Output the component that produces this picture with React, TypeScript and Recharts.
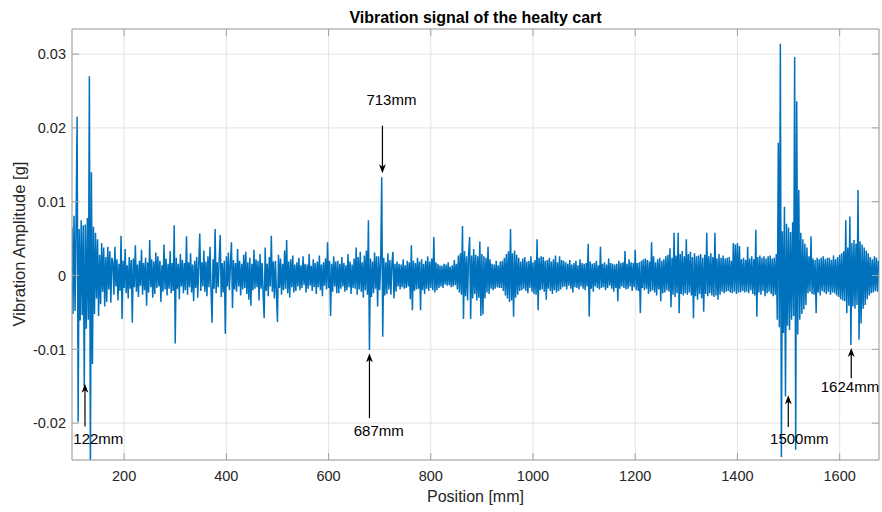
import React from 'react';
import { LineChart, Line, XAxis, YAxis, CartesianGrid, ReferenceLine, ReferenceDot } from 'recharts';

const TITLE = 'Vibration signal of the healty cart';
const X_LABEL = 'Position [mm]';
const Y_LABEL = 'Vibration Amplitude [g]';

const POSITION_START_MM = 98;
const POSITION_STEP_MM = 2;
const X_DOMAIN = [98, 1677];
const Y_DOMAIN = [-0.025, 0.0334];
const X_TICKS = [200, 400, 600, 800, 1000, 1200, 1400, 1600];
const Y_TICKS = [-0.02, -0.01, 0, 0.01, 0.02, 0.03];

// vibration amplitude in milli-g, one sample every 2 mm from 98 mm
const AMPLITUDE_MG = [
  6.5,-5.2,8.1,-4.8,7.2,21.5,-19.8,6.3,-6.1,7.5,-5.4,6.8,-15.0,6.9,-7.2,7.8,-6.0,27.0,-27.0,14.0,
  -12.0,6.6,-5.2,5.8,-3.1,4.9,-5.5,2.8,-3.9,4.4,-2.2,3.8,-4.2,2.5,-3.6,3.9,-1.9,3.3,-3.7,2.4,
  1.8,-2.6,3.9,-1.5,2.2,-3.4,1.6,-2.1,5.4,-5.9,2.0,-1.7,3.6,-2.4,1.4,-3.1,2.5,-1.8,2.1,-6.4,
  2.3,-1.6,4.1,-2.2,1.5,-2.9,2.0,-1.4,3.5,-2.6,1.7,-2.0,2.4,-4.1,1.8,-2.3,4.8,-1.6,2.2,-3.0,
  1.9,-2.5,3.1,-1.7,2.6,-1.5,2.0,-3.6,1.4,-2.2,4.2,-1.9,2.3,-2.7,1.6,-1.8,3.3,-2.4,1.7,-2.1,
  6.8,-9.2,2.4,-1.8,1.6,-3.2,2.9,-1.5,2.1,-2.4,1.7,-2.0,5.3,-2.6,1.8,-1.6,3.0,-2.3,1.5,-3.5,
  2.0,-1.7,2.5,-3.0,1.6,5.7,-2.1,1.8,-1.5,3.4,-2.2,1.9,-2.8,2.6,-1.6,3.9,-2.0,-6.4,2.2,-1.8,
  6.3,-2.4,1.8,-1.6,2.2,5.5,-2.9,1.7,-2.3,2.0,-7.9,2.6,-1.5,3.1,-2.0,1.6,4.5,-4.4,2.1,-1.9,
  1.7,-2.2,3.6,-1.5,2.0,-2.7,1.6,-1.9,2.8,-1.7,3.2,-2.5,1.8,-3.3,2.4,-4.1,1.6,-2.0,3.5,-1.8,
  2.2,-1.6,2.0,-3.4,2.9,-1.8,1.7,-2.5,-5.8,3.8,-2.1,1.6,-2.8,2.5,-1.5,5.4,-2.2,1.9,-3.1,2.0,
  -2.3,-6.3,2.8,-1.7,2.3,-2.6,1.6,-2.0,3.4,-1.8,4.8,-2.4,1.9,-3.0,2.2,-1.6,2.7,-2.3,1.5,-2.1,
  1.8,-1.5,2.4,-2.0,1.4,-1.7,2.6,-1.3,1.6,-2.3,1.5,-1.8,2.9,-1.4,1.3,-2.1,2.2,-1.6,1.7,-2.5,
  1.9,-1.6,2.7,-2.0,1.5,-2.8,1.8,-1.4,2.3,-1.9,4.5,-1.7,2.0,-5.5,1.6,-2.2,2.6,-1.5,1.9,-2.4,
  2.0,-2.4,1.6,-1.8,2.5,-1.5,1.7,-2.2,1.4,-2.0,2.9,-1.6,1.9,-2.5,1.5,-1.7,2.3,-1.8,3.8,-2.6,
  2.5,-1.9,3.2,-2.2,1.8,-3.0,2.7,-2.0,3.4,-2.6,7.5,-10.1,2.3,-2.9,1.9,-2.4,3.1,-1.8,2.6,-4.2,
  2.6,-2.0,1.9,13.3,-8.3,2.4,-2.7,1.8,-2.5,3.0,-1.9,2.1,-2.6,1.7,3.2,-3.1,1.6,-2.2,1.9,-1.5,
  1.6,-1.9,1.5,-1.6,2.2,-1.8,1.4,-1.7,2.0,-1.5,1.8,-3.2,4.1,-4.7,2.0,-2.1,1.7,-1.9,2.4,-1.8,
  1.9,-4.7,2.2,-2.0,1.6,-2.5,2.0,-1.8,2.6,-2.1,1.9,-1.7,2.3,-2.0,5.2,-2.3,1.8,-2.0,1.6,-1.7,
  1.4,-1.5,1.3,-1.7,1.6,-1.2,1.5,-1.4,1.8,-1.3,1.2,-1.6,1.4,-1.5,2.1,-1.3,1.6,-1.9,2.7,-2.3,
  3.0,-2.6,6.7,-5.9,3.3,-2.8,2.6,-3.4,2.9,5.2,-5.9,2.7,-3.1,3.6,-2.5,2.8,-3.4,2.6,-3.0,4.6,
  -5.5,2.9,-5.3,2.6,-3.1,2.4,-2.3,3.9,-2.5,2.2,-1.8,1.6,-2.0,1.5,-1.8,2.0,-1.6,1.4,-1.7,1.9,
  -1.7,2.0,-2.1,2.4,-2.7,2.9,-3.1,3.3,-3.6,6.3,-3.4,3.0,-5.6,3.4,-3.0,2.8,-2.6,2.4,-2.1,1.9,
  -2.0,2.3,-1.8,2.5,-2.1,1.9,-2.4,2.0,-1.7,2.6,-2.2,1.8,-2.5,2.1,-2.6,4.9,-4.7,2.4,-2.0,2.6,
  -1.9,2.5,-2.2,2.0,-3.3,2.1,-1.8,2.4,-2.1,1.9,-2.5,2.2,-2.0,2.7,-2.3,1.8,-2.1,2.6,-1.9,2.1,
  -1.6,2.0,-1.5,1.8,-1.9,1.6,-1.4,2.1,-1.8,1.5,-2.3,1.7,-1.6,2.0,-1.7,1.4,-1.9,2.2,-1.5,1.7,
  -1.8,1.6,-2.0,1.7,-1.5,4.3,-5.6,1.9,-1.8,1.6,-2.2,1.7,-1.5,2.0,-1.7,1.4,-1.9,3.9,-1.7,1.6,
  -1.6,1.8,-2.0,1.5,-1.7,2.3,-1.4,1.7,-1.8,1.6,-2.2,1.5,-1.7,1.6,-3.5,2.0,-1.8,1.7,-1.5,1.8,
  -1.7,3.3,-1.9,1.6,-1.8,2.2,-1.5,1.8,-2.1,1.7,-1.6,3.5,-2.0,1.7,-2.1,1.8,-5.1,2.0,-1.7,2.2,
  -2.0,2.3,-1.8,2.1,-2.5,1.9,-2.2,4.5,-2.0,2.6,-2.3,1.8,-2.7,2.2,-1.9,2.4,-3.5,2.0,-2.4,2.2,
  -2.3,2.6,-2.0,2.8,-2.2,3.7,-4.3,2.4,-2.6,5.8,-2.9,2.7,-2.4,5.8,-5.1,2.9,-2.5,3.3,-2.7,2.6,
  -2.4,4.9,-2.6,2.9,-2.3,3.2,-2.7,2.5,-5.8,3.0,-2.8,2.6,-3.3,2.7,-2.5,2.9,-3.1,2.4,-4.9,2.8,
  -2.5,5.8,-2.8,2.6,-2.4,3.0,-2.7,2.5,-2.9,5.8,-2.7,2.3,-3.3,2.9,-2.6,2.4,-2.2,2.7,-2.4,2.3,
  -2.2,2.4,-2.1,2.5,-2.3,2.0,-2.4,4.4,-2.2,4.2,-2.5,4.4,-2.3,4.0,-2.3,2.2,-2.1,2.4,-2.3,2.1,
  -2.2,3.9,-2.4,2.3,-2.0,2.6,-2.5,2.2,-2.7,6.2,-5.6,2.5,-2.3,2.7,-2.6,2.4,-2.1,2.6,-2.8,2.3,
  -2.4,2.6,-2.2,2.7,-2.5,2.3,-2.8,2.4,-2.6,2.9,-6.0,18.0,-7.0,31.4,-24.6,6.0,-7.8,9.3,-16.4,7.0,
  -6.8,6.5,-7.4,5.9,-6.0,7.2,-5.5,29.6,-23.6,23.6,-8.0,11.6,-6.0,5.8,-5.2,4.9,-4.6,4.3,-4.0,3.8,
  -2.4,2.6,-2.2,5.3,-2.5,2.3,-2.6,2.1,-5.1,2.4,-2.3,2.2,-2.7,2.4,-2.1,2.6,-2.3,2.2,-2.5,2.4,
  -2.2,2.4,-2.6,2.1,-2.3,2.7,-2.4,2.2,-2.7,2.5,-2.9,2.8,-3.2,3.0,-3.4,3.3,-3.5,7.5,-5.1,3.8,
  -4.1,8.0,-9.4,4.4,-4.2,4.8,-4.5,4.3,-4.0,11.6,-8.7,4.6,-6.5,4.2,-4.5,3.8,-4.0,3.4,-3.2,3.0,
  -2.7,2.5,-2.4,2.2,-2.3,2.6,-2.1,2.4,-2.2,2.0,
];

// annotations (data coordinates: position mm, amplitude g)
const ANNOTATION_TEXT = ['122mm', '687mm', '713mm', '1500mm', '1624mm'];
const ARROW_TAIL = [
  { x: 123.4, y: -0.02047 },
  { x: 680, y: -0.01932 },
  { x: 705.4, y: 0.0203 },
  { x: 1499.5, y: -0.02054 },
  { x: 1622.7, y: -0.01391 },
];
const ARROW_TIP = [
  { x: 123.4, y: -0.01468 },
  { x: 680, y: -0.01052 },
  { x: 705.4, y: 0.01385 },
  { x: 1499.5, y: -0.01623 },
  { x: 1622.7, y: -0.00984 },
];
const TEXT_ANCHOR_AT = [
  { x: 149.5, y: -0.0228 },
  { x: 698.3, y: -0.02181 },
  { x: 723, y: 0.0231 },
  { x: 1521, y: -0.02284 },
  { x: 1620.2, y: -0.01583 },
];

const data = AMPLITUDE_MG.map((mg, i) => ({
  pos: POSITION_START_MM + i * POSITION_STEP_MM,
  amp: mg / 1000,
}));

const FONT = '"Liberation Sans", Arial, Helvetica, sans-serif';
const BOX = '#a0a0a0';
const TXT = '#262626';
const TICK_LEN = 7;
const PLOT_H = 431;
const PLOT_W = 807;

const XTick = (p: any) => {
  const { x, y, payload } = p;
  return (
    <g>
      <line x1={x} y1={y} x2={x} y2={y - TICK_LEN} stroke={BOX} />
      <line x1={x} y1={y - PLOT_H} x2={x} y2={y - PLOT_H + TICK_LEN} stroke={BOX} />
      <text x={x} y={y + 21} textAnchor="middle" fontSize={14.5} fill={TXT} fontFamily={FONT}>
        {payload.value}
      </text>
    </g>
  );
};

const YTick = (p: any) => {
  const { x, y, payload } = p;
  return (
    <g>
      <line x1={x} y1={y} x2={x + TICK_LEN} y2={y} stroke={BOX} />
      <line x1={x + PLOT_W} y1={y} x2={x + PLOT_W - TICK_LEN} y2={y} stroke={BOX} />
      <text x={x - 6} y={y + 5.3} textAnchor="end" fontSize={14.5} fill={TXT} fontFamily={FONT}>
        {String(payload.value)}
      </text>
    </g>
  );
};

const arrowShape = (p: any) => {
  const { x1, y1, x2, y2 } = p;
  const dx = x2 - x1;
  const dy = y2 - y1;
  const len = Math.hypot(dx, dy) || 1;
  const ux = dx / len;
  const uy = dy / len;
  const hl = 9;
  const hw = 3.4;
  const bx = x2 - ux * hl;
  const by = y2 - uy * hl;
  const nx = bx + ux * 2.5;
  const ny = by + uy * 2.5;
  return (
    <g>
      <line x1={x1} y1={y1} x2={nx} y2={ny} stroke="#000" strokeWidth={1.2} />
      <polygon
        points={`${x2},${y2} ${bx - uy * hw},${by + ux * hw} ${nx},${ny} ${bx + uy * hw},${by - ux * hw}`}
        fill="#000"
      />
    </g>
  );
};

const makeTextShape = (label: string) => (p: any) => (
  <text x={p.cx} y={p.cy} textAnchor="middle" fontSize={15} fill="#000" fontFamily={FONT}>
    {label}
  </text>
);

const xLabel = () => (
  <g>
    <text x={475.5} y={502} textAnchor="middle" fontSize={16} fill={TXT} fontFamily={FONT}>
      {X_LABEL}
    </text>
    <text x={475.5} y={22.5} textAnchor="middle" fontSize={16} fontWeight="bold" fill="#000" fontFamily={FONT}>
      {TITLE}
    </text>
  </g>
);

const yLabel = () => (
  <text
    transform="translate(24.5,244) rotate(-90)"
    textAnchor="middle"
    fontSize={16.5}
    fill={TXT}
    fontFamily={FONT}
  >
    {Y_LABEL}
  </text>
);

export default function App() {
  return (
    <div style={{ position: 'absolute', left: 0, top: 0, width: 882, height: 512, background: '#fff' }}>
      <LineChart width={882} height={512} data={data} margin={{ top: 29, right: 3, bottom: 0, left: 0 }}>
        <CartesianGrid stroke="#e4e4e4" strokeWidth={1} />
        <XAxis
          type="number"
          dataKey="pos"
          domain={X_DOMAIN}
          ticks={X_TICKS}
          interval={0}
          allowDataOverflow
          height={52}
          tickSize={0}
          tickMargin={0}
          tickLine={false}
          axisLine={{ stroke: BOX }}
          tick={XTick}
          label={xLabel}
        />
        <YAxis
          type="number"
          domain={Y_DOMAIN}
          ticks={Y_TICKS}
          interval={0}
          allowDataOverflow
          width={72}
          tickSize={0}
          tickMargin={0}
          tickLine={false}
          axisLine={{ stroke: BOX }}
          tick={YTick}
          label={yLabel}
        />
        <ReferenceLine y={Y_DOMAIN[1]} stroke={BOX} ifOverflow="visible" />
        <ReferenceLine x={X_DOMAIN[1]} stroke={BOX} ifOverflow="visible" />
        <Line
          type="linear"
          dataKey="amp"
          stroke="#0072BD"
          strokeWidth={1.5}
          strokeLinejoin="bevel"
          dot={false}
          isAnimationActive={false}
        />
        {ANNOTATION_TEXT.map((t, i) => (
          <ReferenceLine
            key={'a' + i}
            segment={[ARROW_TAIL[i], ARROW_TIP[i]]}
            ifOverflow="visible"
            shape={arrowShape}
          />
        ))}
        {ANNOTATION_TEXT.map((t, i) => (
          <ReferenceDot
            key={'t' + i}
            x={TEXT_ANCHOR_AT[i].x}
            y={TEXT_ANCHOR_AT[i].y}
            r={0}
            ifOverflow="visible"
            shape={makeTextShape(t)}
          />
        ))}
      </LineChart>
    </div>
  );
}
